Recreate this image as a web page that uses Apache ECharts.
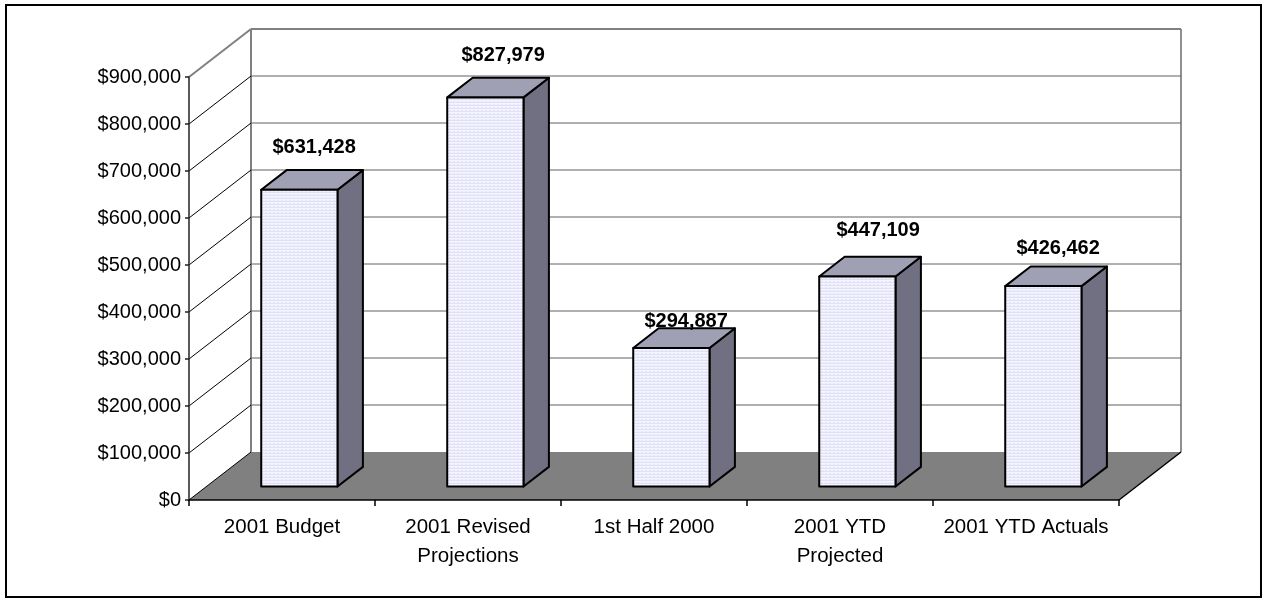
<!DOCTYPE html>
<html>
<head>
<meta charset="utf-8">
<script src="https://cdn.jsdelivr.net/npm/echarts@6/dist/echarts.min.js"></script>
<style>
html,body{margin:0;padding:0;background:#fff;}
#chart{width:1264px;height:600px;}
</style>
</head>
<body>
<div id="chart"></div>
<script>
// ---- data ----
var categories = ['2001 Budget', '2001 Revised\nProjections', '1st Half 2000', '2001 YTD\nProjected', '2001 YTD Actuals'];
var values = [631428, 827979, 294887, 447109, 426462];
var yTicks = [0, 100000, 200000, 300000, 400000, 500000, 600000, 700000, 800000, 900000];

// small per-label nudges (pixels) imitating the original label placement
var labelNudgeX = [0, 3, 0, 6, 0];
var labelNudgeY = [0, 1, 16, -3, 5];

function fmt(v) {
  return '$' + String(v).replace(/\B(?=(\d{3})+(?!\d))/g, ',');
}

var FONT = "'Liberation Sans', Arial, sans-serif";
var DX = 62, DY = -48;       // depth vector of the 3D box
var F1 = 0.28, F2 = 0.69;    // bar front/back depth fractions
var BARW = 0.41;             // bar width as fraction of category

var pat = document.createElement('canvas');
pat.width = 4; pat.height = 3;
(function () {
  var c = pat.getContext('2d');
  c.fillStyle = '#F4F4FF'; c.fillRect(0, 0, 4, 3);
  c.fillStyle = '#E0E0F6'; c.fillRect(0, 0, 4, 1);
  c.fillStyle = '#E8E8FA'; c.fillRect(1, 2, 2, 1);
})();

var chart = echarts.init(document.getElementById('chart'), null, {renderer: 'canvas'});

function renderWalls(params, api) {
  var cs = params.coordSys;
  var v = api.value(0);
  var y = api.coord([0, v])[1];
  var x0 = cs.x, x1 = cs.x + cs.width;
  var children = [];
  var isTop = (params.dataIndex === yTicks.length - 1);
  if (params.dataIndex === 0) {
    var yb = y;
    var yt = api.coord([0, yTicks[yTicks.length - 1]])[1];
    children.push({
      type: 'polygon',
      shape: {points: [[x0, yb], [x1, yb], [x1 + DX, yb + DY], [x0 + DX, yb + DY]]},
      style: {fill: '#808080', stroke: null},
      z2: 1
    });
    children.push({
      type: 'line',
      shape: {x1: x1, y1: yb, x2: x1 + DX, y2: yb + DY},
      style: {stroke: '#000', lineWidth: 1.5},
      z2: 3
    });
    children.push({
      type: 'line',
      shape: {x1: x0 + DX, y1: yt + DY, x2: x0 + DX, y2: yb + DY},
      style: {stroke: '#808080', lineWidth: 2},
      z2: 0
    });
    children.push({
      type: 'line',
      shape: {x1: x1 + DX, y1: yt + DY, x2: x1 + DX, y2: yb + DY},
      style: {stroke: '#909090', lineWidth: 2},
      z2: 0
    });
  }
  if (params.dataIndex !== 0) {
    children.push({
      type: 'line',
      shape: {x1: x0 + DX, y1: y + DY, x2: x1 + DX, y2: y + DY},
      style: {stroke: isTop ? '#808080' : '#606060', lineWidth: isTop ? 2 : 1},
      z2: 0
    });
  }
  children.push({
    type: 'line',
    shape: {x1: x0, y1: y, x2: x0 + DX, y2: y + DY},
    style: {stroke: isTop ? '#808080' : '#000', lineWidth: isTop ? 2 : 1},
    z2: 2
  });
  return {type: 'group', children: children};
}

function renderBar(params, api) {
  var idx = api.value(0);
  var val = api.value(1);
  var base = api.coord([idx, 0]);
  var top = api.coord([idx, val]);
  var w = api.size([1, 0])[0] * BARW;
  var ox = F1 * DX, oy = F1 * DY;
  var dx = (F2 - F1) * DX, dy = (F2 - F1) * DY;
  var xl = base[0] + ox - w / 2, xr = base[0] + ox + w / 2;
  var yb = base[1] + oy, yt = top[1] + oy;
  var st = {stroke: '#000', lineWidth: 2, lineJoin: 'round'};
  return {
    type: 'group',
    children: [
      {
        type: 'polygon',
        shape: {points: [[xr, yt], [xr + dx, yt + dy], [xr + dx, yb + dy], [xr, yb]]},
        style: Object.assign({fill: '#707082'}, st)
      },
      {
        type: 'polygon',
        shape: {points: [[xl, yt], [xr, yt], [xr + dx, yt + dy], [xl + dx, yt + dy]]},
        style: Object.assign({fill: '#A0A0B4'}, st)
      },
      {
        type: 'rect',
        shape: {x: xl, y: yt, width: xr - xl, height: yb - yt},
        style: Object.assign({fill: {image: pat, repeat: 'repeat'}}, st)
      },
      {
        type: 'text',
        z2: 10,
        style: {
          text: fmt(val),
          x: base[0] + ox + dx * 0.58 + labelNudgeX[idx],
          y: yt + dy - 23 + labelNudgeY[idx],
          align: 'center',
          verticalAlign: 'middle',
          font: 'bold 20px ' + FONT,
          fill: '#000'
        }
      }
    ]
  };
}

var option = {
  animation: false,
  backgroundColor: '#fff',
  graphic: [{
    type: 'rect',
    shape: {x: 6, y: 5, width: 1255, height: 592},
    style: {fill: null, stroke: '#000', lineWidth: 2},
    z: -10
  }],
  grid: {left: 189, top: 77, width: 930, height: 423, containLabel: false},
  xAxis: {
    type: 'category',
    data: categories,
    axisLine: {show: true, lineStyle: {color: '#000', width: 1.5}},
    axisTick: {show: true, length: 6, lineStyle: {color: '#000', width: 1.5}},
    axisLabel: {
      interval: 0, margin: 13, color: '#000',
      fontFamily: FONT, fontSize: 20.5, lineHeight: 29
    },
    splitLine: {show: false},
    z: 5
  },
  yAxis: {
    type: 'value',
    min: 0, max: 900000, interval: 100000,
    axisLine: {show: true, lineStyle: {color: '#222', width: 1.5}},
    axisTick: {show: true, length: 4, lineStyle: {color: '#222', width: 1.5}},
    axisLabel: {
      margin: 8, color: '#000', fontFamily: FONT, fontSize: 20,
      formatter: function (v) { return fmt(v); }
    },
    splitLine: {show: false},
    z: 5
  },
  series: [
    {
      type: 'custom',
      name: 'walls',
      renderItem: renderWalls,
      data: yTicks.map(function (t) { return [t]; }),
      encode: {y: 0},
      z: 1,
      silent: true
    },
    {
      type: 'custom',
      name: 'bars',
      renderItem: renderBar,
      data: values.map(function (v, i) { return [i, v]; }),
      encode: {x: 0, y: 1},
      z: 3,
      clip: false
    }
  ]
};
chart.setOption(option);
</script>
</body>
</html>
